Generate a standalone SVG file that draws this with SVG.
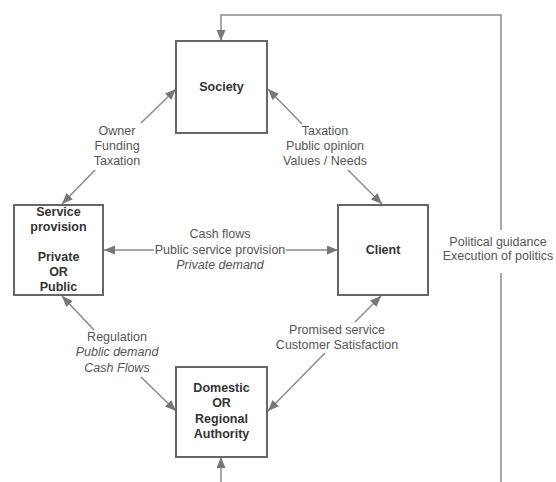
<svg xmlns="http://www.w3.org/2000/svg" width="556" height="482" viewBox="0 0 556 482">
<defs>
<style>
.box{fill:#fff;stroke:#666;stroke-width:2}
.lbl{font-family:"Liberation Sans",Arial,sans-serif;font-size:12.5px;fill:#555;text-anchor:middle;dominant-baseline:central}
.nm{font-family:"Liberation Sans",Arial,sans-serif;font-size:12.5px;font-weight:bold;fill:#333;text-anchor:middle;dominant-baseline:central}
.it{font-style:italic}
.ln{fill:none;stroke:#8a8a8a;stroke-width:1.5}
</style>
<marker id="ah" markerUnits="userSpaceOnUse" markerWidth="12" markerHeight="10" refX="11" refY="4.5" orient="auto">
<path d="M0,0 L11,4.5 L0,9 z" fill="#777"/>
</marker>
</defs>
<rect width="556" height="482" fill="#fff"/>
<g id="connectors">
<path class="ln" d="M501,230 V15 H221 V41" marker-end="url(#ah)"/>
<path class="ln" d="M501,273 V490 H221 V457" marker-end="url(#ah)"/>
<path class="ln" d="M141,123 L176,89" marker-end="url(#ah)"/>
<path class="ln" d="M95,170 L62,204" marker-end="url(#ah)"/>
<path class="ln" d="M302,124 L268,89" marker-end="url(#ah)"/>
<path class="ln" d="M348,170 L382,204" marker-end="url(#ah)"/>
<path class="ln" d="M94,330 L62,296" marker-end="url(#ah)"/>
<path class="ln" d="M141,377 L176,411" marker-end="url(#ah)"/>
<path class="ln" d="M355,322 L381,296" marker-end="url(#ah)"/>
<path class="ln" d="M325,353 L268,411" marker-end="url(#ah)"/>
<path class="ln" d="M154,250 H104" marker-end="url(#ah)"/>
<path class="ln" d="M286,250 H338" marker-end="url(#ah)"/>
<text class="lbl" x="117" y="131">Owner</text>
<text class="lbl" x="117" y="146">Funding</text>
<text class="lbl" x="117" y="161">Taxation</text>
<text class="lbl" x="325" y="131">Taxation</text>
<text class="lbl" x="325" y="146">Public opinion</text>
<text class="lbl" x="325" y="161">Values / Needs</text>
<text class="lbl" x="220" y="234">Cash flows</text>
<text class="lbl" x="220" y="250">Public service provision</text>
<text class="lbl it" x="220" y="265">Private demand</text>
<text class="lbl" x="498" y="242">Political guidance</text>
<text class="lbl" x="498" y="256">Execution of politics</text>
<text class="lbl" x="117" y="337">Regulation</text>
<text class="lbl it" x="117" y="352">Public demand</text>
<text class="lbl it" x="117" y="368">Cash Flows</text>
<text class="lbl" x="337" y="330">Promised service</text>
<text class="lbl" x="337" y="345">Customer Satisfaction</text>
</g>
<g id="society">
<rect class="box" x="176" y="41" width="91" height="92"/>
<text class="nm" x="221.5" y="87">Society</text>
</g>
<g id="service">
<rect class="box" x="14" y="205" width="89" height="90"/>
<text class="nm" x="58.5" y="212">Service</text>
<text class="nm" x="58.5" y="227">provision</text>
<text class="nm" x="58.5" y="257">Private</text>
<text class="nm" x="58.5" y="272">OR</text>
<text class="nm" x="58.5" y="287">Public</text>
</g>
<g id="client">
<rect class="box" x="338" y="205" width="90" height="90"/>
<text class="nm" x="383" y="250">Client</text>
</g>
<g id="authority">
<rect class="box" x="176" y="367" width="91" height="90"/>
<text class="nm" x="221.5" y="388">Domestic</text>
<text class="nm" x="221.5" y="403">OR</text>
<text class="nm" x="221.5" y="419">Regional</text>
<text class="nm" x="221.5" y="434">Authority</text>
</g>
</svg>
